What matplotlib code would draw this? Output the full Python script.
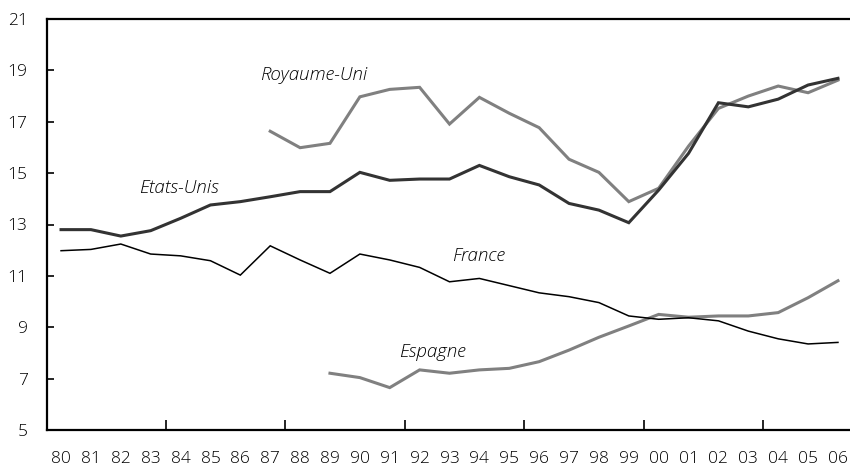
import matplotlib
matplotlib.use("Agg")
import matplotlib.pyplot as plt
import numpy as np

years = ["80", "81", "82", "83", "84", "85", "86", "87", "88", "89", "90", "91", "92",
         "93", "94", "95", "96", "97", "98", "99", "00", "01", "02", "03", "04", "05", "06"]

etats_unis = [12.80, 12.80, 12.55, 12.76, 13.24, 13.76, 13.89, 14.08, 14.28, 14.28, 15.03,
              14.72, 14.77, 14.77, 15.30, 14.86, 14.54, 13.82, 13.56, 13.07, 14.34, 15.77,
              17.74, 17.58, 17.88, 18.43, 18.69]

royaume_uni = [None] * 7 + [16.63, 15.99, 16.16, 17.97, 18.26, 18.34, 16.91, 17.95, 17.33,
                            16.77, 15.54, 15.03, 13.89, 14.41, 16.05, 17.52, 18.00, 18.39,
                            18.13, 18.62]

france = [11.98, 12.03, 12.24, 11.85, 11.78, 11.59, 11.03, 12.17, 11.62, 11.10, 11.85, 11.62,
          11.33, 10.77, 10.90, 10.62, 10.34, 10.19, 9.96, 9.44, 9.31, 9.37, 9.25, 8.85, 8.55,
          8.35, 8.41]

espagne = [None] * 9 + [7.21, 7.04, 6.65, 7.34, 7.21, 7.34, 7.40, 7.66, 8.11, 8.61, 9.05,
                        9.50, 9.39, 9.44, 9.44, 9.57, 10.15, 10.81]

yticks = [5, 7, 9, 11, 13, 15, 17, 19, 21]

plt.rcParams['font.family'] = ['Open Sans', 'DejaVu Sans']
plt.rcParams['font.weight'] = 'light'

fig = plt.figure(figsize=(8.5, 4.68), dpi=100)
ax = fig.add_axes([47 / 850, 1 - 430 / 468, 805 / 850, 411 / 468])

x = np.arange(len(years))


def arr(v):
    return np.array([np.nan if e is None else e for e in v], dtype=float)


ax.plot(x, arr(royaume_uni), color="#808080", lw=2.2, solid_joinstyle="miter")
ax.plot(x, arr(espagne), color="#808080", lw=2.2, solid_joinstyle="miter")
ax.plot(x, arr(etats_unis), color="#333333", lw=2.2, solid_joinstyle="miter")
ax.plot(x, arr(france), color="#000000", lw=1.1, solid_joinstyle="miter")

ax.set_xlim(-0.47, 26.47)
ax.set_ylim(5, 21)

ax.set_xticks(x)
ax.set_xticklabels(years)
ax.tick_params(axis="x", which="major", length=0, pad=15, labelsize=12.5)
ax.set_xticks([3.5, 7.5, 11.5, 15.5, 19.5, 23.5], minor=True)
ax.tick_params(axis="x", which="minor", direction="in", length=7, width=1.2)

ax.set_yticks(yticks)
ax.tick_params(axis="y", direction="in", length=5, width=1.2, pad=14, labelsize=12.5)

for s in ["left", "bottom", "top"]:
    ax.spines[s].set_linewidth(1.6)
ax.spines["right"].set_visible(False)

lab = dict(fontsize=13.5, style="italic", color="#000000", fontweight="light")
ax.text(6.65, 18.82, "Royaume-Uni", ha="left", va="center", **lab)
ax.text(2.6, 14.42, "Etats-Unis", ha="left", va="center", **lab)
ax.text(13.1, 11.78, "France", ha="left", va="center", **lab)
ax.text(11.3, 8.02, "Espagne", ha="left", va="center", **lab)

fig.savefig("out.png", dpi=100)
